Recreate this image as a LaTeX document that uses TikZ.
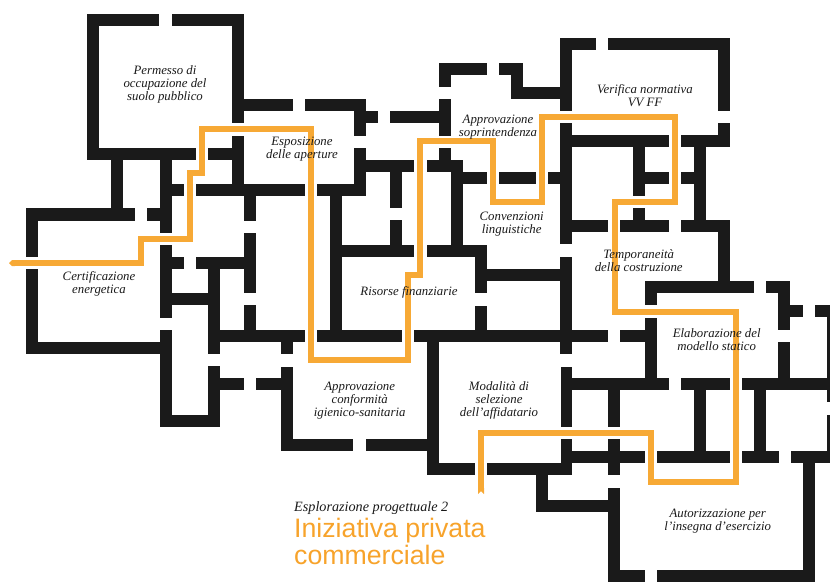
\documentclass[tikz,border=0pt]{standalone}
\usepackage{fontspec}
\setmainfont{Liberation Serif}
\newfontfamily\titlefont{Liberation Sans}
\definecolor{wallcol}{HTML}{1A1A1A}
\definecolor{routecol}{HTML}{F7A935}
\definecolor{titlecol}{HTML}{F7A32B}
\tikzset{
  wall/.style={fill=wallcol},
  route/.style={draw=routecol,line width=6pt,miter limit=10},
  routeend/.style={fill=routecol},
  room/.style={font=\itshape\fontsize{12.8}{13}\selectfont,text=black!90,align=center,inner sep=0pt,yshift=-0.8pt},
  subtitle/.style={font=\itshape\fontsize{14.2}{15}\selectfont,text=black!90,anchor=base west,inner sep=0pt},
  maintitle/.style={font=\titlefont\fontsize{26.7}{30}\selectfont,text=titlecol,anchor=base west,inner sep=0pt}
}
\begin{document}
\begin{tikzpicture}[x=1pt,y=-1pt]
\useasboundingbox (0,0) rectangle (830,582);
% walls: x1/y1/x2/y2
\foreach \a/\b/\c/\d in {
 87/14/159/26, 172/14/244/26, 87/14/99/160, 232/14/244/123, 87/148/196/160, 208/148/232/160,
 232/136/244/196, 244/99/293/111, 305/99/366/111,
 111/160/123/209, 160/160/172/233, 160/184/184/196, 196/184/305/196, 317/184/366/196,
 244/196/256/221, 244/233/256/293, 244/305/256/330,
 26/208/135/221, 147/208/160/221, 26/208/38/257, 26/269/38/354, 26/342/172/354,
 160/330/172/427, 160/415/220/427, 160/245/172/318, 172/257/184/269, 196/257/244/269,
 208/269/220/293, 172/293/220/305, 208/305/220/354,
 220/330/305/342, 317/330/402/342, 414/330/608/342, 620/330/645/342,
 208/366/220/427, 220/378/244/390, 256/378/293/390, 281/342/293/354, 281/367/293/451,
 281/439/353/451, 366/439/438/451, 427/342/439/475, 427/463/475/475, 487/463/572/475,
 536/475/548/512, 536/500/608/512, 608/488/620/582, 561/439/572/475,
 572/451/645/463, 608/439/620/475, 657/451/730/463, 742/451/779/463, 791/451/830/463,
 803/451/815/582, 608/570/645/582, 657/570/815/582,
 561/378/669/390, 681/378/730/390, 742/378/830/390,
 561/367/572/427, 608/390/620/427, 694/390/706/451, 754/390/766/451,
 645/318/657/378, 645/281/657/305, 645/281/754/293, 766/281/790/293,
 778/281/790/330, 778/342/790/390, 790/305/803/317, 815/305/830/317,
 827/305/830/402, 827/415/830/451,
 560/38/596/50, 608/38/730/50, 560/38/572/111, 718/38/730/111, 718/123/730/147,
 560/123/572/244, 560/257/572/354,
 572/135/669/147, 681/135/730/147, 633/147/645/196, 633/208/645/232,
 645/172/669/184, 681/172/694/184, 694/147/706/220,
 572/220/608/232, 620/220/669/232, 681/220/730/232, 718/220/730/293,
 439/63/487/75, 439/63/451/87, 499/63/523/75, 511/63/523/99, 511/87/560/99,
 439/99/451/136, 390/111/439/123, 354/111/378/123, 354/99/366/136,
 354/148/366/196, 366/160/414/172, 427/160/463/172, 439/148/451/160,
 390/172/402/208, 390/220/402/245, 451/172/463/245,
 463/172/487/184, 499/172/536/184, 548/172/560/184,
 330/196/342/330, 342/245/414/257, 427/245/487/257,
 475/245/487/293, 475/306/487/330, 487/269/560/281}
 {\fill[wall] (\a,\b) rectangle (\c,\d);}
% route
\draw[route] (14,263) -- (141,263) -- (141,238.7) -- (189.7,238.7) -- (189.7,172.5) -- (202,172.5)
 -- (202,129.4) -- (311,129.4) -- (311,360) -- (408,360) -- (408,275) -- (420,275)
 -- (420,141) -- (493,141) -- (493,202) -- (541.7,202) -- (541.7,117) -- (675,117)
 -- (675,202) -- (614.7,202) -- (614.7,311.7) -- (736,311.7) -- (736,481.7) -- (651,481.7)
 -- (651,433) -- (481,433) -- (481,490);
\fill[routeend] (15,260) -- (12,260) -- (9,263) -- (12,266) -- (15,266) -- cycle;
\fill[routeend] (478,488) -- (484,488) -- (484,494) -- (481,491) -- (478,494) -- cycle;
% labels
\node[room] (permesso) at (165,84) {Permesso di\\occupazione del\\suolo pubblico};
\node[room] (certificazione) at (99,283.5) {Certificazione\\energetica};
\node[room] (esposizione) at (302,148) {Esposizione\\delle aperture};
\node[room] (soprintendenza) at (498,126.5) {Approvazione\\soprintendenza};
\node[room] (convenzioni) at (511.7,223) {Convenzioni\\linguistiche};
\node[room] (verifica) at (645,95) {Verifica normativa\\VV FF};
\node[room] (temporaneita) at (638.7,259.5) {Temporaneità\\della costruzione};
\node[room] (elaborazione) at (716.7,338.5) {Elaborazione del\\modello statico};
\node[room] (risorse) at (409,292) {Risorse finanziarie};
\node[room] (conformita) at (359.7,400) {Approvazione\\conformità\\igienico-sanitaria};
\node[room] (modalita) at (499,400) {Modalità di\\selezione\\dell’affidatario};
\node[room] (autorizzazione) at (717.7,520.5) {Autorizzazione per\\l’insegna d’esercizio};
\node[subtitle] (esplorazione) at (294,511.5) {Esplorazione progettuale 2};
\node[maintitle] (iniziativa) at (294,537.7) {Iniziativa privata};
\node[maintitle] (commerciale) at (294,564) {commerciale};
\end{tikzpicture}
\end{document}
